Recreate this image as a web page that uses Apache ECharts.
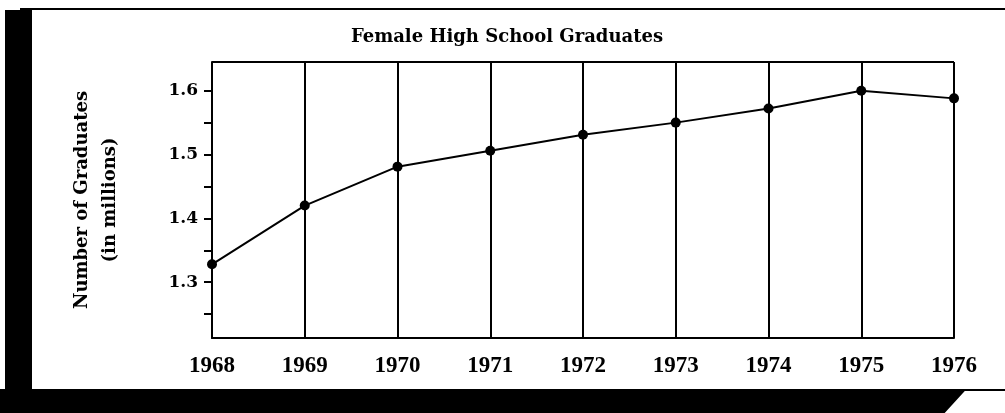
<html>
    <head>
        <style>
            *{box-sizing: border-box;}
            body,html{
                margin:0;
                padding: 0;
                width: 100%;
                height: 100%;
                background: #fff;
                overflow: hidden;
            }
            #chart{
                position: absolute;
                left:0;
                top:0;
                width: 1005px;
                height: 413px;
            }
            /* dark edges of the scanned page */
            .scan_left{
                position: absolute;
                left:5px;
                top:10px;
                width: 27px;
                height: 403px;
                background: #000;
            }
            .scan_top{
                position: absolute;
                left:20px;
                top:8px;
                width: 985px;
                height: 2px;
                background: #000;
            }
            .scan_bottom{
                position: absolute;
                left:0;
                top:389px;
                width: 1005px;
                height: 24px;
                background: #000;
                clip-path: polygon(0 0, 100% 0, 100% 8%, 96% 8%, 94% 100%, 0 100%);
            }
        </style>
        <script src="https://cdn.jsdelivr.net/npm/echarts@6/dist/echarts.min.js"></script>
    </head>
    <body>
        <div class="scan_left"></div>
        <div class="scan_top"></div>
        <div class="scan_bottom"></div>
        <div id="chart"></div>
        <script>
            var years = ["1968","1969","1970","1971","1972","1973","1974","1975","1976"];
            var graduates = [1.328, 1.42, 1.481, 1.506, 1.531, 1.55, 1.572, 1.6, 1.588];
            var y_tick_values = [1.25, 1.3, 1.35, 1.4, 1.45, 1.5, 1.55, 1.6];
            var y_label_values = [1.3, 1.4, 1.5, 1.6];

            var font = "'Liberation Serif', 'DejaVu Serif', serif";
            var wide_font = "'DejaVu Serif', 'Liberation Serif', serif";

            var chart = echarts.init(document.getElementById("chart"), null, {renderer:"canvas"});

            var option = {
                animation:false,
                backgroundColor:"transparent",
                title:{
                    text:"Female High School Graduates",
                    left:502,
                    top:14,
                    textAlign:"center",
                    textStyle:{
                        fontFamily:wide_font,
                        fontWeight:"bold",
                        fontSize:18,
                        color:"#000"
                    }
                },
                grid:{
                    left:212,
                    right:51,
                    top:62,
                    bottom:75
                },
                xAxis:{
                    type:"category",
                    data:years,
                    boundaryGap:false,
                    axisLine:{lineStyle:{color:"#000",width:2}},
                    axisTick:{show:false},
                    axisLabel:{
                        margin:10,
                        fontFamily:font,
                        fontWeight:"bold",
                        fontSize:23,
                        color:"#000"
                    },
                    splitLine:{
                        show:true,
                        lineStyle:{color:"#000",width:2}
                    }
                },
                yAxis:{
                    type:"value",
                    min:1.2125,
                    max:1.645,
                    name:"Number of Graduates\n(in millions)",
                    nameLocation:"middle",
                    nameGap:88,
                    nameTextStyle:{
                        fontFamily:wide_font,
                        fontWeight:"bold",
                        fontSize:18,
                        lineHeight:28,
                        color:"#000"
                    },
                    axisLine:{show:true,lineStyle:{color:"#000",width:2}},
                    axisTick:{
                        show:true,
                        length:8,
                        customValues:y_tick_values,
                        lineStyle:{color:"#000",width:2}
                    },
                    axisLabel:{
                        customValues:y_label_values,
                        margin:14,
                        fontFamily:wide_font,
                        fontWeight:"bold",
                        fontSize:17,
                        color:"#000",
                        formatter:function(v){ return v.toFixed(1); }
                    },
                    splitLine:{show:false}
                },
                series:[{
                    type:"line",
                    data:graduates,
                    symbol:"circle",
                    symbolSize:10,
                    itemStyle:{color:"#000"},
                    lineStyle:{color:"#000",width:2}
                }]
            };

            chart.setOption(option);

            // top frame of the plot
            var x0 = chart.convertToPixel({xAxisIndex:0}, years[0]);
            var x1 = chart.convertToPixel({xAxisIndex:0}, years[years.length-1]);
            var yTop = chart.convertToPixel({yAxisIndex:0}, 1.645);
            chart.setOption({
                graphic:[{
                    type:"line",
                    shape:{x1:x0,y1:yTop,x2:x1,y2:yTop},
                    style:{stroke:"#000",lineWidth:2}
                }]
            });
        </script>
    </body>
</html>
